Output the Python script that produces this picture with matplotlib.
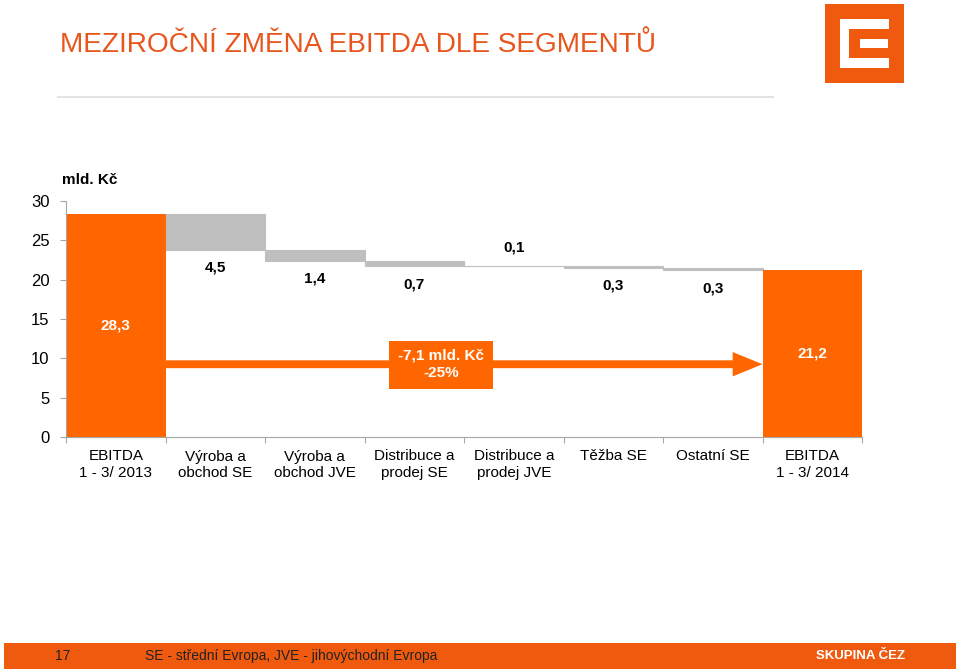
import matplotlib
matplotlib.use("Agg")
import matplotlib.pyplot as plt
from matplotlib.patches import Rectangle, FancyArrow
from matplotlib import font_manager

categories = ["EBITDA\n1 - 3/ 2013", "Výroba a\nobchod SE", "Výroba a\nobchod JVE",
              "Distribuce a\nprodej SE", "Distribuce a\nprodej JVE", "Těžba SE",
              "Ostatní SE", "EBITDA\n1 - 3/ 2014"]
start_value = 28.3
deltas = [-4.5, -1.4, -0.7, 0.1, -0.3, -0.3]
end_value = 21.2
change_text = "-7,1 mld. Kč\n-25%"

orange = "#FF6600"
grey = "#BFBFBF"
title_orange = "#E8561E"

names = {f.name for f in font_manager.fontManager.ttflist}
narrow = "Liberation Sans Narrow" if "Liberation Sans Narrow" in names else "Liberation Sans"
plt.rcParams["font.family"] = ["Liberation Sans", "DejaVu Sans"]

fig = plt.figure(figsize=(9.6, 6.71), dpi=100)

# decoration layer in pixel coordinates
deco = fig.add_axes([0, 0, 1, 1])
deco.set_xlim(0, 960)
deco.set_ylim(671, 0)
deco.axis("off")
deco.text(60, 45, "MEZIROČNÍ ZMĚNA EBITDA DLE SEGMENTŮ", color=title_orange,
          fontsize=20.2, family=[narrow, "DejaVu Sans"], va="center", ha="left")
deco.plot([58, 773], [97, 97], color="#E3E3E3", lw=1.5)
# logo
deco.add_patch(Rectangle((825, 4), 79, 79, color="#F05A0F", lw=0))
deco.add_patch(Rectangle((840, 19), 49, 49, color="white", lw=0))
deco.add_patch(Rectangle((849, 29), 41, 29, color="#F05A0F", lw=0))
deco.add_patch(Rectangle((860, 39), 28, 9, color="white", lw=0))
# footer
deco.add_patch(Rectangle((4, 643), 952, 26, color="#F05A0F", lw=0))
deco.text(63, 656, "17", color="#222222", fontsize=10, va="center", ha="center",
          family=[narrow, "DejaVu Sans"])
deco.text(145, 656, "SE - střední Evropa, JVE - jihovýchodní Evropa", color="#222222",
          fontsize=10, va="center", ha="left", family=[narrow, "DejaVu Sans"])
deco.text(905, 656, "SKUPINA ČEZ", color="white", fontsize=9.5, fontweight="bold",
          va="center", ha="right")

ax = fig.add_axes([66 / 960, 1 - 437 / 671, 796 / 960, 236 / 671])

ax.bar(0, start_value, width=1.0, color=orange)
ax.text(0, start_value / 2, f"{start_value:.1f}".replace(".", ","), color="white",
        fontsize=11, fontweight="bold", ha="center", va="center")

level = start_value
for i, d in enumerate(deltas, start=1):
    new_level = level + d
    bottom = min(level, new_level)
    ax.bar(i, abs(d), bottom=bottom, width=1.0, color=grey, edgecolor=grey, linewidth=0.8)
    label = f"{abs(d):.1f}".replace(".", ",")
    if d < 0:
        ax.annotate(label, (i, bottom), xytext=(0, -8), textcoords="offset points",
                    ha="center", va="top", fontsize=11, fontweight="bold")
    else:
        ax.annotate(label, (i, bottom + abs(d)), xytext=(0, 8), textcoords="offset points",
                    ha="center", va="bottom", fontsize=11, fontweight="bold")
    level = new_level

last = len(categories) - 1
ax.bar(last, end_value, width=1.0, color=orange)
ax.text(last, end_value / 2, f"{end_value:.1f}".replace(".", ","), color="white",
        fontsize=11, fontweight="bold", ha="center", va="center")

ax.add_patch(FancyArrow(0.5, 9.25, last - 1.0, 0, width=1.0, head_width=3.1,
                        head_length=0.3, length_includes_head=True, color=orange, lw=0))
ax.add_patch(Rectangle((2.75, 6.1), 1.04, 6.1, color=orange, lw=0, zorder=3))
ax.text(3.27, 9.2, change_text, color="white", fontsize=11, fontweight="bold",
        ha="center", va="center", zorder=4, linespacing=1.3)

ax.set_xlim(-0.5, last + 0.5)
ax.set_ylim(0, 30)
ax.set_yticks(range(0, 31, 5))
ax.set_xticks([i - 0.5 for i in range(len(categories) + 1)])
ax.set_xticklabels([])
for i, c in enumerate(categories):
    ax.annotate(c, (i, 0), xytext=(0, -9), textcoords="offset points", ha="center",
                va="top", fontsize=11, linespacing=1.2, annotation_clip=False)
for s in ["top", "right"]:
    ax.spines[s].set_visible(False)
for s in ["left", "bottom"]:
    ax.spines[s].set_color("#A6A6A6")
ax.tick_params(axis="both", colors="#A6A6A6", labelcolor="black", labelsize=12, length=4)
ax.tick_params(axis="y", pad=8)
ax.text(-0.005, 1.09, "mld. Kč", transform=ax.transAxes, fontsize=11, fontweight="bold",
        ha="left", va="center")

fig.savefig("out.png", dpi=100)
